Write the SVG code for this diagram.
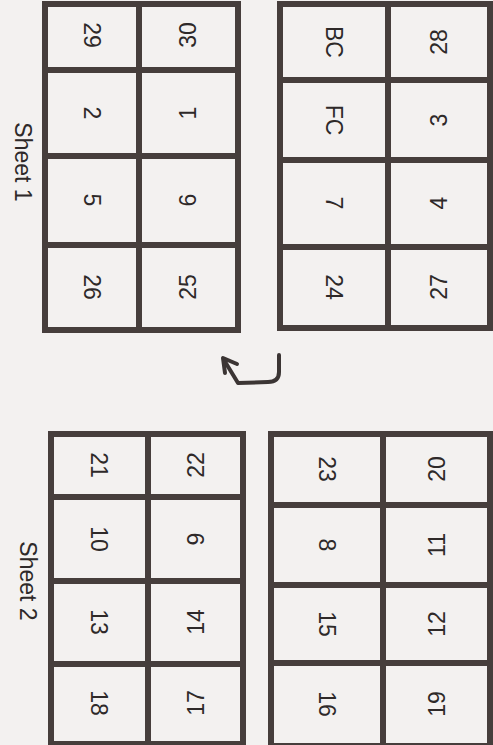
<svg xmlns="http://www.w3.org/2000/svg" width="493" height="745" viewBox="0 0 493 745">
<style>
.bg{fill:#f3f1f0}
.grid{fill:none;stroke:#463e3c;stroke-width:6;stroke-linecap:square}
.t{font-family:"Liberation Sans",Arial,sans-serif;font-size:23px;fill:#2e2929;text-anchor:middle;dominant-baseline:central}
.arrow{fill:none;stroke:#3b3534;stroke-width:4;stroke-linecap:round;stroke-linejoin:round}
</style>
<rect class="bg" x="0" y="0" width="493" height="745"/>

<g id="sheet1-label"><text class="t" transform="translate(23,162) rotate(90)">Sheet 1</text></g>
<g id="sheet2-label"><text class="t" transform="translate(28,581) rotate(90)">Sheet 2</text></g>

<g id="sheet1-left">
<rect class="grid" x="45" y="4" width="193" height="326"/>
<path class="grid" d="M139,4V330M45,70H238M45,156H238M45,245H238"/>
<g id="p29"><text class="t" transform="translate(92,35) rotate(90)">29</text></g>
<g id="p30"><text class="t" transform="translate(188,35) rotate(-90)">30</text></g>
<g id="p2"><text class="t" transform="translate(92,113) rotate(90)">2</text></g>
<g id="p1"><text class="t" transform="translate(188,113) rotate(-90)">1</text></g>
<g id="p5"><text class="t" transform="translate(92,200) rotate(90)">5</text></g>
<g id="p6"><text class="t" transform="translate(188,200) rotate(-90)">6</text></g>
<g id="p26"><text class="t" transform="translate(92,287) rotate(90)">26</text></g>
<g id="p25"><text class="t" transform="translate(188,287) rotate(-90)">25</text></g>
</g>

<g id="sheet1-right">
<rect class="grid" x="280" y="4" width="210" height="324"/>
<path class="grid" d="M388,4V328M280,80H490M280,160H490M280,247H490"/>
<g id="pBC"><text class="t" transform="translate(334,42) rotate(90)">BC</text></g>
<g id="p28"><text class="t" transform="translate(439,42) rotate(-90)">28</text></g>
<g id="pFC"><text class="t" transform="translate(334,120) rotate(90)">FC</text></g>
<g id="p3"><text class="t" transform="translate(439,120) rotate(-90)">3</text></g>
<g id="p7"><text class="t" transform="translate(334,203) rotate(90)">7</text></g>
<g id="p4"><text class="t" transform="translate(439,203) rotate(-90)">4</text></g>
<g id="p24"><text class="t" transform="translate(334,287) rotate(90)">24</text></g>
<g id="p27"><text class="t" transform="translate(439,287) rotate(-90)">27</text></g>
</g>

<g id="sheet2-left">
<rect class="grid" x="51" y="434" width="192" height="310"/>
<path class="grid" d="M148,434V744M51,497H243M51,581H243M51,664H243"/>
<g id="p21"><text class="t" transform="translate(99,465) rotate(90)">21</text></g>
<g id="p22"><text class="t" transform="translate(196,465) rotate(-90)">22</text></g>
<g id="p10"><text class="t" transform="translate(99,539) rotate(90)">10</text></g>
<g id="p9"><text class="t" transform="translate(196,539) rotate(-90)">9</text></g>
<g id="p13"><text class="t" transform="translate(99,622) rotate(90)">13</text></g>
<g id="p14"><text class="t" transform="translate(196,622) rotate(-90)">14</text></g>
<g id="p18"><text class="t" transform="translate(99,703) rotate(90)">18</text></g>
<g id="p17"><text class="t" transform="translate(196,703) rotate(-90)">17</text></g>
</g>

<g id="sheet2-right">
<rect class="grid" x="271" y="434" width="219" height="312"/>
<path class="grid" d="M383,434V746M271,505H490M271,585H490M271,663H490"/>
<g id="p23"><text class="t" transform="translate(327,469) rotate(90)">23</text></g>
<g id="p20"><text class="t" transform="translate(437,469) rotate(-90)">20</text></g>
<g id="p8"><text class="t" transform="translate(327,545) rotate(90)">8</text></g>
<g id="p11"><text class="t" transform="translate(437,545) rotate(-90)">11</text></g>
<g id="p15"><text class="t" transform="translate(327,624) rotate(90)">15</text></g>
<g id="p12"><text class="t" transform="translate(437,624) rotate(-90)">12</text></g>
<g id="p16"><text class="t" transform="translate(327,704) rotate(90)">16</text></g>
<g id="p19"><text class="t" transform="translate(437,704) rotate(-90)">19</text></g>
</g>

<g id="connectors">
<path class="arrow" d="M279,355 L279,372 Q279,382 268,382 L238,383 L224,360"/>
<path class="arrow" d="M237,364 L223,358 L225,373"/>
</g>
</svg>
